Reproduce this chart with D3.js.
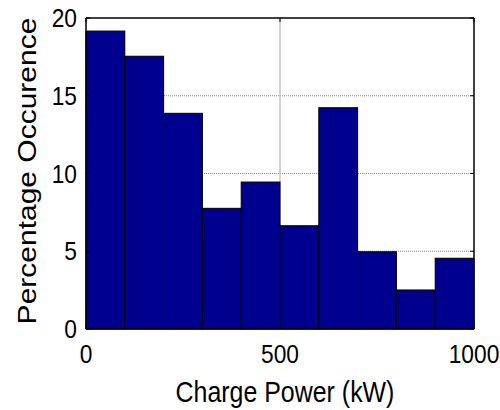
<!DOCTYPE html>
<html>
<head>
<meta charset="utf-8">
<script src="https://cdn.jsdelivr.net/npm/d3@7"></script>
<style>
  html, body { margin: 0; padding: 0; background: #fff; }
  svg text { font-family: "Liberation Sans", Arial, sans-serif; fill: #000; }
</style>
</head>
<body>
<svg id="chart" width="500" height="410"></svg>
<script>
// Histogram of charge power: bin edges (kW) and percentage in each bin
const binStarts = [0, 100, 200, 300, 400, 500, 600, 700, 800, 900];
const binWidth = 100;
const percentages = [19.16, 17.54, 13.87, 7.76, 9.45, 6.64, 14.23, 4.97, 2.51, 4.55];
const xTicks = [0, 500, 1000];
const yTicks = [0, 5, 10, 15, 20];
const xLabel = "Charge Power (kW)";
const yLabel = "Percentage Occurence";

const svg = d3.select("#chart");
const m = { left: 86, right: 26, top: 18, bottom: 81 };
const W = 500, H = 410;
const iw = W - m.left - m.right, ih = H - m.top - m.bottom;

const x = d3.scaleLinear().domain([0, 1000]).range([0, iw]);
const y = d3.scaleLinear().domain([0, 20]).range([ih, 0]);

const g = svg.append("g").attr("transform", `translate(${m.left},${m.top})`);

// grid lines (behind the bars)
g.append("g").selectAll("line").data(yTicks.filter(d => d > 0 && d < 20)).join("line")
  .attr("x1", 0).attr("x2", iw)
  .attr("y1", d => y(d)).attr("y2", d => y(d))
  .attr("stroke", "#8c8c8c").attr("stroke-width", 1)
  .attr("stroke-dasharray", "1,1");
g.append("g").selectAll("line").data(xTicks.filter(d => d > 0 && d < 1000)).join("line")
  .attr("x1", d => x(d)).attr("x2", d => x(d))
  .attr("y1", 0).attr("y2", ih)
  .attr("stroke", "#c4c4c4").attr("stroke-width", 1.5);

// bars
g.append("g").selectAll("rect").data(binStarts).join("rect")
  .attr("x", (d) => x(d))
  .attr("width", x(binWidth) - x(0))
  .attr("y", (d, i) => y(percentages[i]))
  .attr("height", (d, i) => ih - y(percentages[i]))
  .attr("fill", "#00008f")
  .attr("stroke", "#000").attr("stroke-width", 1);

// axes frame
const frame = g.append("g").attr("stroke", "#000").attr("stroke-width", 1.5).attr("fill", "none");
frame.append("line").attr("x1", 0).attr("x2", iw).attr("y1", 0).attr("y2", 0);
frame.append("line").attr("x1", 0).attr("x2", iw).attr("y1", ih).attr("y2", ih);
frame.append("line").attr("x1", 0).attr("x2", 0).attr("y1", 0).attr("y2", ih);
frame.append("line").attr("x1", iw).attr("x2", iw).attr("y1", 0).attr("y2", ih);

// inward ticks on all four sides
const tickLen = 4;
const ticks = g.append("g").attr("stroke", "#000").attr("stroke-width", 1);
yTicks.forEach(v => {
  ticks.append("line").attr("x1", 0).attr("x2", tickLen).attr("y1", y(v)).attr("y2", y(v));
  ticks.append("line").attr("x1", iw).attr("x2", iw - tickLen).attr("y1", y(v)).attr("y2", y(v));
});
xTicks.forEach(v => {
  ticks.append("line").attr("x1", x(v)).attr("x2", x(v)).attr("y1", 0).attr("y2", tickLen);
  ticks.append("line").attr("x1", x(v)).attr("x2", x(v)).attr("y1", ih).attr("y2", ih - tickLen);
});

// tick labels (slightly condensed glyphs)
const sx = 0.91;
g.append("g").selectAll("text").data(yTicks).join("text")
  .attr("transform", d => `translate(-9,${y(d)}) scale(${sx},1)`)
  .attr("dy", "0.36em")
  .attr("text-anchor", "end").attr("font-size", 25)
  .text(d => d);
g.append("g").selectAll("text").data(xTicks).join("text")
  .attr("transform", d => `translate(${x(d)},${ih + 34}) scale(${sx},1)`)
  .attr("text-anchor", "middle").attr("font-size", 25)
  .text(d => d);

// axis titles
svg.append("text")
  .attr("transform", "translate(285,402) scale(0.86,1)")
  .attr("text-anchor", "middle").attr("font-size", 29)
  .text(xLabel);
svg.append("text")
  .attr("transform", `translate(36,171) scale(0.88,1) rotate(-90)`)
  .attr("text-anchor", "middle").attr("font-size", 30)
  .text(yLabel);
</script>
</body>
</html>
